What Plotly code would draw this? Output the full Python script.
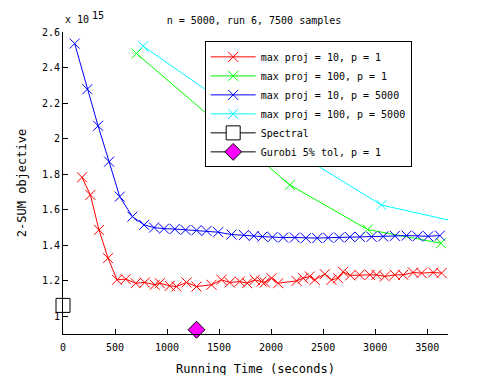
import plotly.graph_objects as go

# --------------------------------------------------------------------------- #
# Data (objective values in units of 1e15, time in seconds)
# --------------------------------------------------------------------------- #

red_t = [183, 263, 346, 433, 519, 603, 699, 786, 882, 930,
         1026, 1090, 1187, 1283, 1427, 1523, 1603, 1699, 1770, 1843,
         1908, 1940, 2004, 2068, 2244, 2308, 2372, 2420, 2516, 2580,
         2644, 2692, 2760, 2850, 2949, 3013, 3093, 3189, 3269, 3365,
         3446, 3558, 3638]
red_obj = [1.782, 1.683, 1.486, 1.327, 1.205, 1.209, 1.186, 1.190, 1.177, 1.186,
           1.171, 1.167, 1.190, 1.167, 1.177, 1.205, 1.190, 1.195, 1.186, 1.205,
           1.195, 1.190, 1.214, 1.186, 1.199, 1.214, 1.224, 1.205, 1.237, 1.205,
           1.214, 1.250, 1.230, 1.233, 1.233, 1.233, 1.224, 1.233, 1.233, 1.246,
           1.243, 1.246, 1.243]

green_t = [706, 2180, 2928, 3633]
green_obj = [2.479, 1.739, 1.488, 1.411]

blue_t = [112, 234, 337, 443, 545, 667, 779, 875, 971, 1074,
          1177, 1283, 1379, 1491, 1620, 1738, 1834, 1917, 2013, 2116,
          2228, 2334, 2443, 2548, 2654, 2757, 2853, 2966, 3077, 3189,
          3302, 3408, 3510, 3622]
blue_obj = [2.535, 2.278, 2.072, 1.870, 1.673, 1.561, 1.514, 1.499, 1.493, 1.491,
            1.486, 1.484, 1.480, 1.473, 1.460, 1.457, 1.452, 1.448, 1.445, 1.443,
            1.443, 1.440, 1.440, 1.442, 1.443, 1.446, 1.447, 1.447, 1.449, 1.452,
            1.454, 1.450, 1.450, 1.454]

cyan_t = [770, 2292, 3061, 3800]
cyan_obj = [2.520, 1.902, 1.626, 1.529]

spectral_t = [0]
spectral_obj = [1.061]

gurobi_t = [1283]
gurobi_obj = [0.924]

x_ticks = [0, 500, 1000, 1500, 2000, 2500, 3000, 3500]
y_ticks = [1.0, 1.2, 1.4, 1.6, 1.8, 2.0, 2.2, 2.4, 2.6]
y_labels = ["1", "1.2", "1.4", "1.6", "1.8", "2", "2.2", "2.4", "2.6"]

FONT = "DejaVu Sans Mono"

# --------------------------------------------------------------------------- #
# Figure
# --------------------------------------------------------------------------- #

fig = go.Figure()

cross_series = [
    (red_t, red_obj, "#ff0000", "max proj = 10, p = 1"),
    (green_t, green_obj, "#00ff00", "max proj = 100, p = 1"),
    (blue_t, blue_obj, "#0000ff", "max proj = 10, p = 5000"),
    (cyan_t, cyan_obj, "#00ffff", "max proj = 100, p = 5000"),
]
for xs, ys, col, name in cross_series:
    fig.add_trace(go.Scatter(
        x=xs, y=ys, name=name, mode="lines+markers",
        line=dict(color=col, width=1),
        marker=dict(symbol="x-thin", size=10, line=dict(color=col, width=1)),
    ))

fig.add_trace(go.Scatter(
    x=spectral_t, y=spectral_obj, name="Spectral", mode="lines+markers",
    line=dict(color="black", width=1),
    marker=dict(symbol="square", size=14, color="white",
                line=dict(color="black", width=1)),
    cliponaxis=False,
))
fig.add_trace(go.Scatter(
    x=gurobi_t, y=gurobi_obj, name="Gurobi 5% tol, p = 1", mode="lines+markers",
    line=dict(color="black", width=1),
    marker=dict(symbol="diamond", size=13, color="#ff00ff",
                line=dict(color="black", width=1)),
    cliponaxis=False,
))

# exponent label above the y axis ("x 10" with a raised "15")
fig.add_annotation(
    x=0, y=1, xref="paper", yref="paper", xanchor="left", yanchor="middle",
    yshift=13, text="x 10", showarrow=False,
    font=dict(family=FONT, size=10, color="black"),
)
fig.add_annotation(
    x=0, y=1, xref="paper", yref="paper", xanchor="left", yanchor="top",
    xshift=27, yshift=24, text="15", showarrow=False,
    font=dict(family=FONT, size=10, color="black"),
)

fig.update_layout(
    width=495, height=375,
    margin=dict(l=55, r=55, t=24, b=49),
    paper_bgcolor="white", plot_bgcolor="white",
    font=dict(family=FONT, size=10, color="black"),
    title=dict(text="n = 5000, run 6, 7500 samples", x=0.497, xanchor="center",
               y=0.968, yanchor="middle", font=dict(family=FONT, size=10)),
    legend=dict(x=0.368, y=0.969, xanchor="left", yanchor="top",
                bgcolor="white", bordercolor="black", borderwidth=1,
                itemwidth=45, font=dict(family=FONT, size=10)),
    showlegend=True,
)
fig.update_xaxes(
    range=[0, 3700], tickvals=x_ticks, showline=True, linecolor="black",
    linewidth=1, ticks="inside", ticklen=5, tickcolor="black", showgrid=False,
    zeroline=False, automargin=False, ticklabelstandoff=4,
    title=dict(text="Running Time (seconds)", standoff=12),
)
fig.update_yaxes(
    range=[0.9, 2.6], tickvals=y_ticks, ticktext=y_labels, showline=True,
    linecolor="black", linewidth=1, ticks="inside", ticklen=5,
    tickcolor="black", showgrid=False, zeroline=False, automargin=False,
    title=dict(text="2-SUM objective", standoff=12),
)

fig.write_html("out.html")
